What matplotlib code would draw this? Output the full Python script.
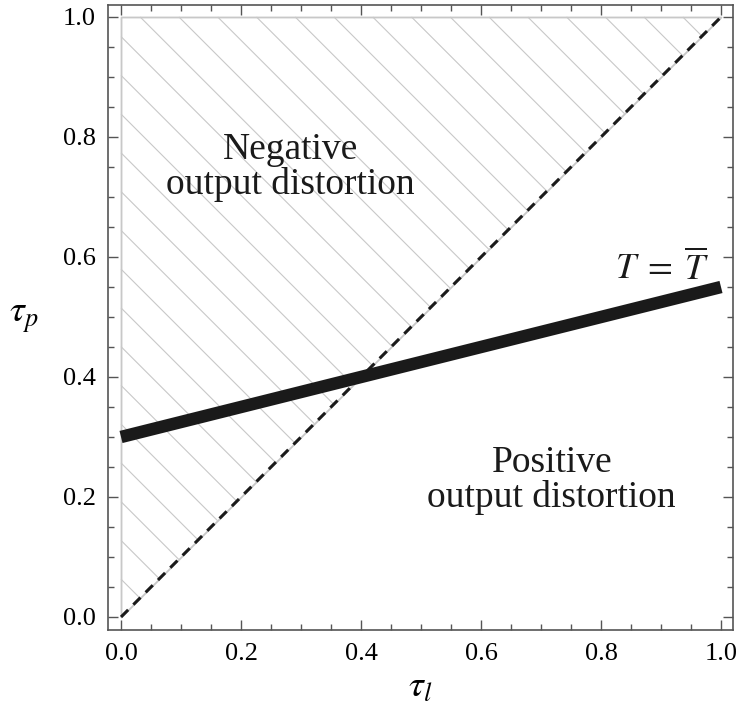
import numpy as np
import matplotlib
matplotlib.use("Agg")
import matplotlib.pyplot as plt

# ---- data ----
diag_x = [0.0, 1.0]
diag_y = [0.0, 1.0]
tbar_x = [0.0, 1.0]
tbar_y = [0.30, 0.55]
region_top = [1.0, 1.0]
xticks = [0.0, 0.2, 0.4, 0.6, 0.8, 1.0]
yticks = [0.0, 0.2, 0.4, 0.6, 0.8, 1.0]
xticklabels = ["0.0", "0.2", "0.4", "0.6", "0.8", "1.0"]
yticklabels = ["0.0", "0.2", "0.4", "0.6", "0.8", "1.0"]
label_neg = "Negative\noutput distortion"
label_pos = "Positive\noutput distortion"
label_tbar = r"$T\;=\;\overline{T}$"
xlabel = r"$\tau_l$"
ylabel = r"$\tau_p$"

plt.rcParams['mathtext.fontset'] = 'stix'
plt.rcParams['font.family'] = ['Liberation Serif', 'DejaVu Serif']

fig = plt.figure(figsize=(7.36, 7.14), dpi=100)
ax = fig.add_axes([108/736, 84/714, (733-108)/736, (630-5)/714])

pad = 0.0217
ax.set_xlim(-pad, 1 + 0.02)
ax.set_ylim(-pad, 1 + 0.02)

hatch_gray = '#c8c8c8'
# region above the diagonal
ax.fill_between(diag_x, diag_y, region_top, facecolor='white',
                edgecolor=hatch_gray, linewidth=1.3, zorder=1)

# hatch lines x + y = c, clipped to the triangle
spacing = 0.0646
c0 = 1.032
cs = c0 + spacing * np.arange(-20, 20)
cs = cs[(cs > 0) & (cs < 2)]
for c in cs:
    xa = max(0.0, c - 1.0)
    ya = min(c, 1.0)
    xb = c / 2.0
    ax.plot([xa, xb], [ya, c - xb], color=hatch_gray, lw=0.8, zorder=1.5,
            solid_capstyle='butt')

# dashed diagonal
ax.plot(diag_x, diag_y, color='#1a1a1a', lw=2.2, zorder=3,
        linestyle=(0, (3.3, 2.4)), dash_capstyle='butt')

# thick T = Tbar line
ax.plot(tbar_x, tbar_y, color='#1a1a1a', lw=9, zorder=4,
        solid_capstyle='butt')

ax.text(0.282, 0.75, label_neg, ha='center', va='center', fontsize=27,
        linespacing=1.0, color='#1a1a1a', zorder=5)
ax.text(0.718, 0.228, label_pos, ha='center', va='center', fontsize=27,
        linespacing=1.0, color='#1a1a1a', zorder=5)
ax.text(0.903, 0.563, label_tbar, ha='center', va='baseline', fontsize=26,
        color='#1a1a1a', zorder=5)

ax.set_xticks(xticks)
ax.set_xticklabels(xticklabels)
ax.set_yticks(yticks)
ax.set_yticklabels(yticklabels)
ax.set_xticks(np.arange(0, 1.0001, 0.05), minor=True)
ax.set_yticks(np.arange(0, 1.0001, 0.05), minor=True)

frame_col = '#555555'
for s in ax.spines.values():
    s.set_color(frame_col)
    s.set_linewidth(1.2)
ax.tick_params(which='both', direction='in', top=True, right=True,
               color=frame_col, width=1.0)
ax.tick_params(which='major', length=7.5, labelsize=19, pad=9)
ax.tick_params(which='minor', length=4.5)
ax.tick_params(axis='y', which='major', pad=9)

ax.set_xlabel(xlabel, fontsize=27, labelpad=4)
ax.set_ylabel(ylabel, fontsize=27, rotation=0, labelpad=28, va='center')

fig.savefig('out.png', dpi=100)
